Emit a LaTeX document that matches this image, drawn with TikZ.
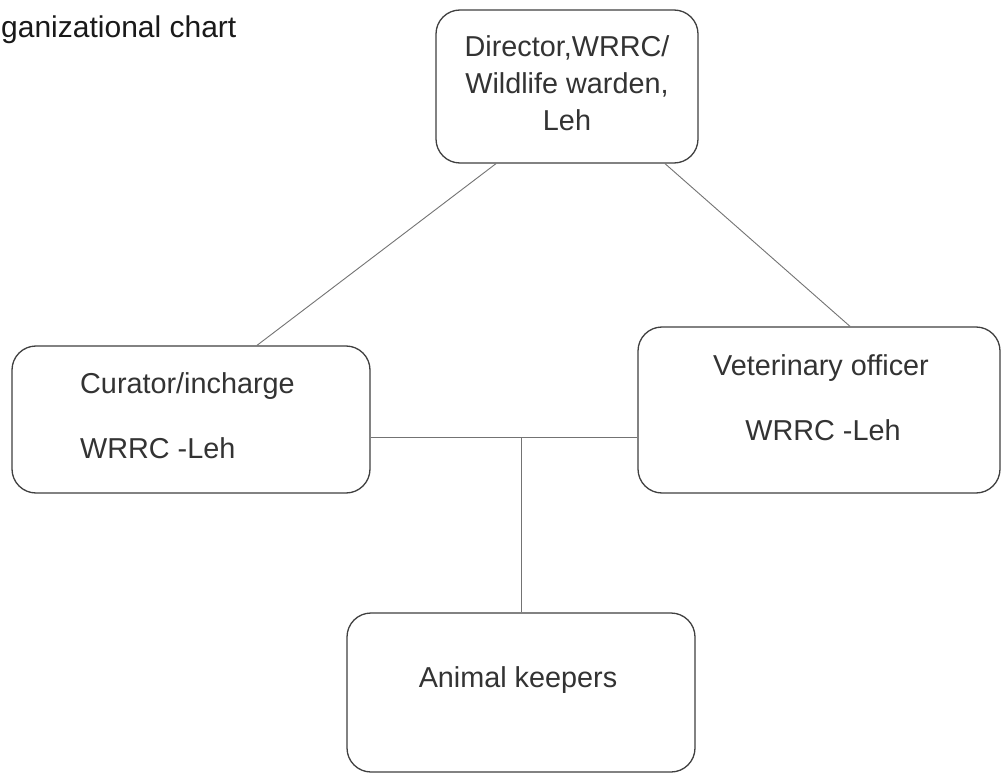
\documentclass[tikz,border=0pt]{standalone}
\usepackage{fontspec}
\setmainfont{Liberation Sans}
\begin{document}
\begin{tikzpicture}[x=1pt,y=-1pt,
  orgbox/.style={draw=black!75,line width=1.3pt,rounded corners=24pt,inner sep=0pt},
  conn/.style={draw=black!55,line width=0.9pt},
  lbl/.style={text=black!80,font=\fontsize{28.8}{37}\selectfont,inner sep=0pt}]
\useasboundingbox[fill=white] (0,0) rectangle (1002,773);
% boxes
\node[orgbox,minimum width=262pt,minimum height=153pt] (dir) at (567,86.5) {};
\node[orgbox,minimum width=358pt,minimum height=147pt] (cur) at (191,419.5) {};
\node[orgbox,minimum width=362pt,minimum height=166pt] (vet) at (819,410) {};
\node[orgbox,minimum width=348pt,minimum height=159pt] (ani) at (521,692.5) {};
% texts
\node[lbl,align=center] (dirt) at (567,83) {Director,WRRC/\\Wildlife warden,\\Leh};
\node[lbl,anchor=west] (curt1) at (80,386) {Curator/incharge};
\node[lbl,anchor=west] (curt2) at (80,448) {WRRC -Leh};
\node[lbl] (vett1) at (821,368) {Veterinary officer};
\node[lbl] (vett2) at (823,430) {WRRC -Leh};
\node[lbl] (anit) at (518,680) {Animal keepers};
\node[text=black!90,font=\fontsize{30}{34}\selectfont,inner sep=0pt,anchor=west] (title) at (1,30) {ganizational chart};
% connectors
\coordinate (j) at (521,437);
\draw[conn] ([xshift=-71pt]dir.south) -- ([xshift=66pt]cur.north);
\draw[conn] ([xshift=98pt]dir.south) -- ([xshift=31pt]vet.north);
\draw[conn] (cur.east |- j) -- (vet.west |- j);
\draw[conn] (j) -- (ani.north);
\end{tikzpicture}
\end{document}
